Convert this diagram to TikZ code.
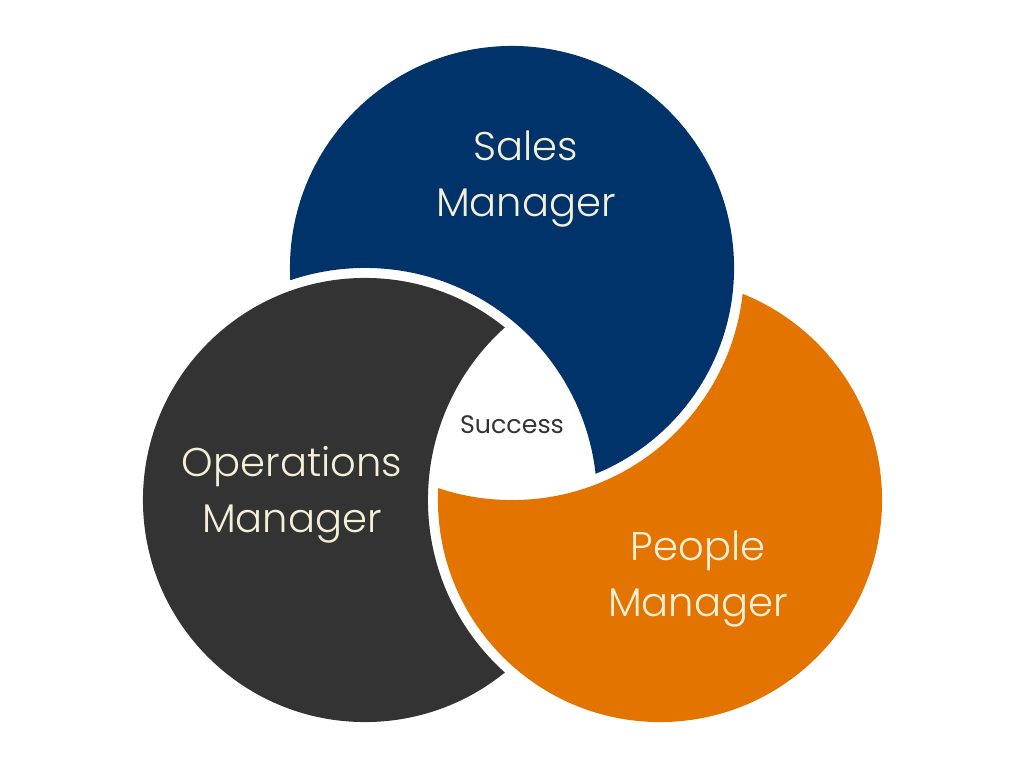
\documentclass[tikz,border=0pt]{standalone}
\usepackage{fontspec}
\setmainfont{Poppins}[UprightFont=* Light]
\newfontfamily\succfont{Poppins}
\definecolor{navyc}{HTML}{00336A}
\definecolor{grayc}{HTML}{333333}
\definecolor{orangec}{HTML}{E37400}
\definecolor{creamc}{HTML}{F4F0D8}
\tikzset{
  bigtext/.style={text=creamc, align=center, font=\fontsize{28.5}{40}\selectfont},
  smalltext/.style={text=grayc, font=\succfont\fontsize{18}{20}\selectfont}
}
\begin{document}
\begin{tikzpicture}[x=0.025cm,y=-0.025cm]
\def\R{5.55cm}
\def\Rc{5.8cm}
\useasboundingbox (0,0) rectangle (1024,768);
\coordinate (N) at (512,268);
\coordinate (G) at (365,500);
\coordinate (O) at (660,500);
\begin{scope}[even odd rule]
  \clip (0,0) rectangle (1024,768) (G) circle[radius=\Rc];
  \fill[navyc] (N) circle[radius=\R];
\end{scope}
\begin{scope}[even odd rule]
  \clip (0,0) rectangle (1024,768) (O) circle[radius=\Rc];
  \fill[grayc] (G) circle[radius=\R];
\end{scope}
\begin{scope}[even odd rule]
  \clip (0,0) rectangle (1024,768) (N) circle[radius=\Rc];
  \fill[orangec] (O) circle[radius=\R];
\end{scope}
\node[bigtext] (sales) at (526,179) {Sales\\Manager};
\node[bigtext] (ops) at (292,495) {Operations\\Manager};
\node[bigtext] (people) at (698,579) {People\\Manager};
\node[smalltext] (success) at (512,425) {Success};
\end{tikzpicture}
\end{document}
